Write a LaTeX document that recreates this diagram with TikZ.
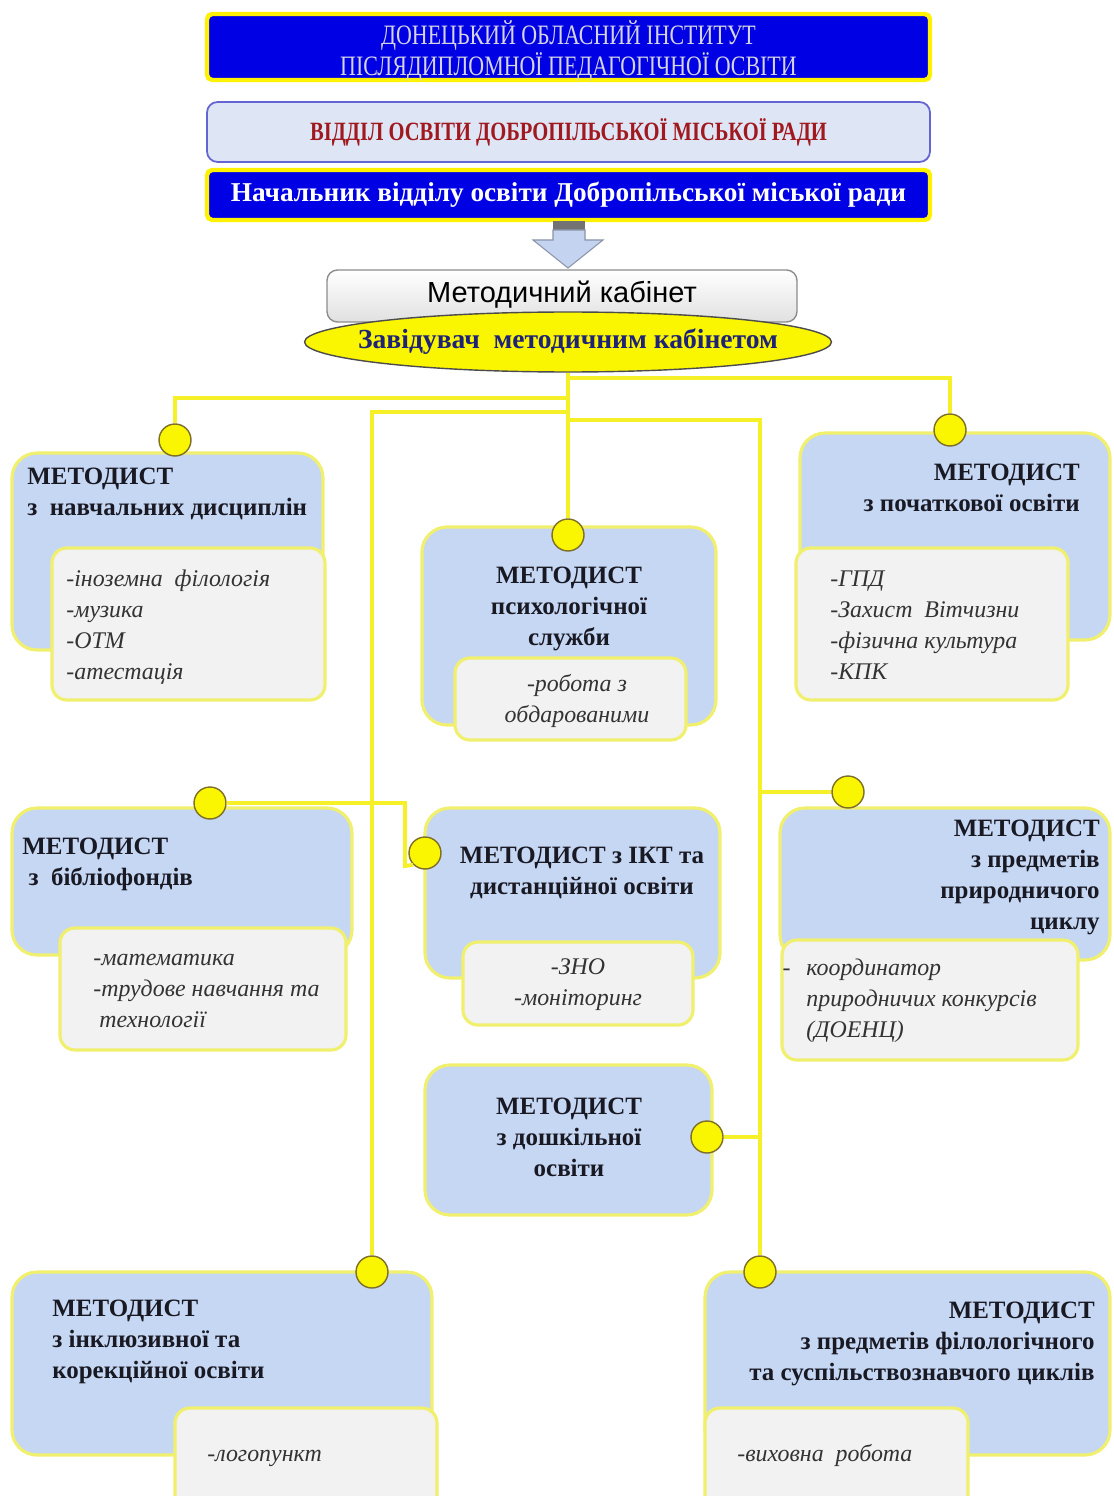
\documentclass[tikz,border=0pt]{standalone}
\usepackage{fontspec}
\setmainfont{Liberation Serif}
\setsansfont{Liberation Sans}
\newfontfamily\condserif[FakeStretch=0.78]{Liberation Serif}
\usetikzlibrary{positioning,fit,shapes.geometric,calc}

\definecolor{mblue}{RGB}{198,215,244}
\definecolor{subgrey}{RGB}{242,242,242}
\definecolor{glow}{RGB}{240,240,110}
\definecolor{dotyellow}{RGB}{250,245,0}
\definecolor{dotrim}{RGB}{125,110,40}
\definecolor{wireyellow}{RGB}{245,240,40}
\definecolor{deepblue}{RGB}{0,0,228}
\definecolor{palebox}{RGB}{222,230,246}
\definecolor{rimviolet}{RGB}{100,100,210}
\definecolor{darkred}{RGB}{160,25,30}
\definecolor{navytext}{RGB}{30,35,120}
\definecolor{inktext}{RGB}{25,25,35}
\definecolor{lightink}{RGB}{212,212,228}
\definecolor{arrowblue}{RGB}{196,212,240}

\tikzset{
  topbar/.style={draw=yellow, line width=2.5pt, fill=deepblue, rounded corners=3pt, inner sep=0pt},
  midbar/.style={draw=rimviolet, line width=1pt, fill=palebox, rounded corners=6pt, inner sep=0pt},
  metbox/.style={draw=glow, line width=1.8pt, fill=mblue, rounded corners=0.5cm, inner sep=0pt},
  subbox/.style={draw=glow, line width=1.8pt, fill=subgrey, rounded corners=0.3cm, inner sep=0pt},
  jdot/.style={circle, draw=dotrim, line width=0.8pt, fill=dotyellow, minimum size=0.64cm, inner sep=0pt},
  wire/.style={draw=wireyellow, line width=2.2pt},
  ttl/.style={inner sep=0pt, text=inktext, font=\bfseries\fontsize{14.2}{17.6}\selectfont},
  itm/.style={inner sep=0pt, text=black!80, font=\itshape\fontsize{13.6}{17.6}\selectfont},
}

\begin{document}
\begin{tikzpicture}[x=0.02cm, y=-0.02cm]
		%%%%% START %%%%%
		\useasboundingbox (0,0) rectangle (1113,1496);
		
		\node[topbar, fit={(207,14) (930,80)}] (inst) {};
		\node[inner sep=0pt, text=lightink, align=center, font=\condserif\fontsize{16}{17.2}\selectfont] (instT) at ([yshift=-2.3pt]inst.center) {ДОНЕЦЬКИЙ ОБЛАСНИЙ ІНСТИТУТ\\ПІСЛЯДИПЛОМНОЇ ПЕДАГОГІЧНОЇ ОСВІТИ};
		\node[midbar, fit={(207,102) (930,162)}] (dept) {};
		\node[inner sep=0pt, text=darkred, font=\condserif\bfseries\fontsize{15}{17}\selectfont] (deptT) at (dept.center) {ВІДДІЛ ОСВІТИ ДОБРОПІЛЬСЬКОЇ МІСЬКОЇ РАДИ};
		\node[topbar, fit={(207,170) (930,220)}] (boss) {};
		\node[inner sep=0pt, text=white, font=\bfseries\fontsize{15.5}{17}\selectfont] (bossT) at (boss.center) {Начальник відділу освіти Добропільської міської ради};
		
		\fill[black!55] (553,221) rectangle (585,230);
		\draw[draw=black!30!arrowblue, line width=0.6pt, fill=arrowblue] (553,230) -- (585,230) -- (585,240) -- (603,240) -- (568,268) -- (533,240) -- (553,240) -- cycle;
		
		\node[draw=black!45, line width=0.8pt, rounded corners=6pt, top color=white, bottom color=black!12, fit={(327,270) (797,322)}, inner sep=0pt] (cab) {};
		\node[inner sep=0pt, font=\sffamily\fontsize{16.5}{18}\selectfont] (cabT) at ([yshift=1pt]cab.center) {Методичний кабінет};
		\node[ellipse, draw=black!70, line width=0.8pt, fill=dotyellow, minimum width=10.54cm, minimum height=1.2cm, inner sep=0pt] (head) at (568,342) {};
		\node[inner sep=0pt, text=navytext, font=\bfseries\fontsize{15.7}{17}\selectfont] (headT) at (head.center) {Завідувач\ \ методичним кабінетом};
		
		\node[metbox, fit={(12,453) (323,650)}] (nav) {};
		\node[subbox, fit={(52,548) (325,700)}] (navS) {};
		\node[metbox, fit={(422,527) (716,725)}] (psy) {};
		\node[subbox, fit={(455,658) (686,740)}] (psyS) {};
		\node[metbox, fit={(800,433) (1110,640)}] (prim) {};
		\node[subbox, fit={(796,548) (1068,700)}] (primS) {};
		\node[metbox, fit={(12,808) (352,955)}] (bib) {};
		\node[subbox, fit={(60,928) (346,1050)}] (bibS) {};
		\node[metbox, fit={(425,808) (720,978)}] (ikt) {};
		\node[subbox, fit={(463,942) (693,1025)}] (iktS) {};
		\node[metbox, fit={(780,808) (1110,960)}] (nat) {};
		\node[subbox, fit={(782,940) (1078,1060)}] (natS) {};
		\node[metbox, fit={(425,1065) (712,1215)}] (pre) {};
		\node[metbox, fit={(12,1272) (432,1455)}] (incl) {};
		\node[subbox, fit={(175,1408) (437,1515)}] (inclS) {};
		\node[metbox, fit={(705,1272) (1110,1455)}] (fil) {};
		\node[subbox, fit={(705,1408) (968,1515)}] (filS) {};
		
		\node[ttl, anchor=base west, align=left] (navT) at (27,515) {МЕТОДИСТ\\з\ \ навчальних дисциплін};
		\node[itm, anchor=base west, align=left] (navI) at (66,679) {-іноземна\ \ філологія\\-музика\\-ОТМ\\-атестація};
		\node[ttl, anchor=base, align=center] (psyT) at (569,645) {МЕТОДИСТ\\психологічної\\служби};
		\node[itm, anchor=base, align=center] (psyI) at (577,722) {-робота з\\обдарованими};
		\node[ttl, anchor=base east, align=right] (primT) at (1080,511) {МЕТОДИСТ\\з початкової освіти};
		\node[itm, anchor=base west, align=left] (primI) at (830,679) {-ГПД\\-Захист\ \ Вітчизни\\-фізична культура\\-КПК};
		\node[ttl, anchor=base west, align=left] (bibT) at (22,885) {МЕТОДИСТ\\\ з\ \ бібліофондів};
		\node[itm, anchor=base west, align=left] (bibI) at (93,1027) {-математика\\-трудове навчання та\\\ технології};
		\node[ttl, anchor=base, align=center] (iktT) at (582,894) {МЕТОДИСТ з ІКТ та\\дистанційної освіти};
		\node[itm, anchor=base, align=center] (iktI) at (578,1005) {-ЗНО\\-моніторинг};
		\node[ttl, anchor=base east, align=right] (natT) at (1100,929) {МЕТОДИСТ\\з предметів\\природничого\\циклу};
		\node[itm, anchor=base west, align=left] (natI) at (806,1037) {\llap{-\hspace{9pt}}координатор\\природничих конкурсів\\(ДОЕНЦ)};
		\node[ttl, anchor=base, align=center] (preT) at (569,1176) {МЕТОДИСТ\\з дошкільної\\освіти};
		\node[ttl, anchor=base west, align=left] (inclT) at (52,1378) {МЕТОДИСТ\\з інклюзивної та\\корекційної освіти};
		\node[itm, anchor=base west] (inclI) at (207,1461) {-логопункт};
		\node[ttl, anchor=base east, align=right] (filT) at (1095,1380) {МЕТОДИСТ\\з предметів філологічного\\та суспільствознавчого циклів};
		\node[itm, anchor=base west] (filI) at (737,1461) {-виховна\ \ робота};
		
		\node[jdot] (cNav) at (175,440) {};
		\node[jdot] (cPsy) at (568,535) {};
		\node[jdot] (cPrim) at (950,430) {};
		\node[jdot] (cBib) at (210,803) {};
		\node[jdot] (cIkt) at (425,853) {};
		\node[jdot] (cNat) at (848,792) {};
		\node[jdot] (cPre) at (707,1137) {};
		\node[jdot] (cIncl) at (372,1272) {};
		\node[jdot] (cFil) at (760,1272) {};
		
		\coordinate (jR) at (568,378);
		\coordinate (jL) at (568,398);
		\coordinate (jIn) at (568,412);
		\coordinate (jFi) at (568,420);
		\coordinate (jNa) at (760,792);
		\coordinate (jPr) at (760,1137);
		\coordinate (bA) at (405,803);
		\coordinate (bB) at (405,866);
		
		\draw[wire] (head.south) -- (cPsy);
		\draw[wire] (jR) -| (cPrim);
		\draw[wire] (jL) -| (cNav);
		\draw[wire] (jIn) -| (cIncl);
		\draw[wire] (jFi) -| (cFil);
		\draw[wire] (jNa) -- (cNat);
		\draw[wire] (jPr) -- (cPre);
		\draw[wire] (cBib) -- (bA) -- (bB) -- (cIkt.south west);
		
		%%%%% END %%%%%
\end{tikzpicture}
\end{document}
